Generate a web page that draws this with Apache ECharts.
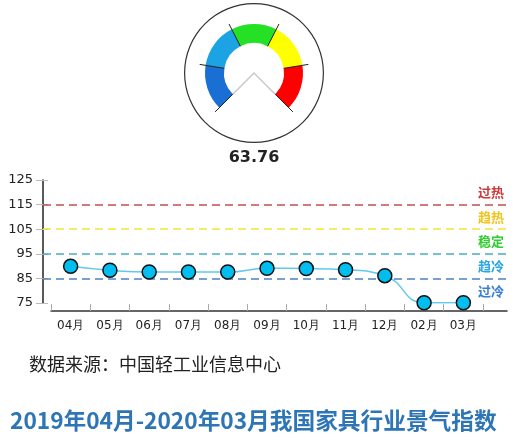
<!DOCTYPE html>
<html>
<head>
<meta charset="utf-8">
<script src="https://cdn.jsdelivr.net/npm/echarts@6/dist/echarts.min.js"></script>
<style>html,body{margin:0;padding:0;background:#fff;}#c{width:520px;height:445px;}</style>
</head>
<body>
<div id="c"></div>
<script>
// ---- data ----
const months = ['04月','05月','06月','07月','08月','09月','10月','11月','12月','02月','03月'];
const indexValues = [89.9, 88.3, 87.6, 87.6, 87.6, 89.1, 89.0, 88.5, 86.1, 75.1, 75.1];
const gaugeValue = 63.76;
const yTicks = [75, 85, 95, 105, 115, 125];
const zoneBounds = [125, 115, 105, 95, 85, 75];
const zoneNames = ['过热', '趋热', '稳定', '趋冷', '过冷'];
const zoneColors = ['#cc3b3b', '#f2c31b', '#33cc33', '#2aa6e0', '#3a7fd5'];
const thresholdLines = [115, 105, 95, 85];
const thresholdColors = ['#c0504d', '#f0e63a', '#4bacc6', '#4f81bd'];
const gaugeColors = ['#1a6fd4', '#1ca3e4', '#25e125', '#ffff00', '#ff0000'];
const sourceText = '数据来源：中国轻工业信息中心';
const titleText = '2019年04月-2020年03月我国家具行业景气指数';

// ---- layout ----
const gc = [254, 73];
const gR = 49, gW = 19, outerR = 70;
const innerR = gR - gW;
function pt(angDeg, r) {
  const a = angDeg * Math.PI / 180;
  return [gc[0] + r * Math.cos(a), gc[1] - r * Math.sin(a)];
}

const chart = echarts.init(document.getElementById('c'), null, {renderer: 'canvas'});
const gridTop = 180, gridH = 123;
const yMin = yTicks[0], yMax = yTicks[yTicks.length - 1];

const option = {
  animation: false,
  backgroundColor: '#fff',
  grid: [
    {left: 43, right: 13, top: gridTop, height: gridH},
    {left: 51, right: 13, top: gridTop, height: gridH},
    {left: 51, right: 37, top: gridTop, height: gridH}
  ],
  xAxis: [
    {gridIndex: 0, type: 'value', min: 0, max: 1, show: false},
    {gridIndex: 1, type: 'value', min: 0, max: 1, offset: 8,
      axisLine: {show: true, lineStyle: {color: '#333', width: 1.5}},
      axisTick: {show: false}, axisLabel: {show: false}, splitLine: {show: false}},
    {gridIndex: 2, type: 'category', data: months, boundaryGap: true, offset: 8,
      axisLine: {show: false},
      axisTick: {show: true, inside: true, length: 7, lineStyle: {color: '#aaa'}},
      axisLabel: {margin: 9, fontSize: 12, color: '#222', fontFamily: 'DejaVu Sans'},
      splitLine: {show: false}}
  ],
  yAxis: [
    {gridIndex: 0, type: 'value', min: yMin, max: yMax, interval: 10, position: 'left',
      axisLine: {show: true, lineStyle: {color: '#222', width: 1.5}},
      axisTick: {show: true, inside: true, length: 5, lineStyle: {color: '#bbb'}},
      axisLabel: {margin: 10, fontSize: 13, color: '#222', fontFamily: 'DejaVu Sans'},
      splitLine: {show: false}},
    {gridIndex: 0, type: 'value', min: yMin, max: yMax, interval: 10, position: 'left',
      axisLine: {show: false},
      axisTick: {show: true, length: 7, lineStyle: {color: '#bbb'}},
      axisLabel: {show: false}, splitLine: {show: false}},
    {gridIndex: 1, type: 'value', min: yMin, max: yMax, show: false},
    {gridIndex: 2, type: 'value', min: yMin, max: yMax, show: false}
  ],
  series: [
    {
      type: 'gauge', center: gc, radius: outerR, z: 1,
      startAngle: 90, endAngle: -270, min: 0, max: 1,
      axisLine: {lineStyle: {width: 1.2, color: [[1, '#333']]}},
      splitLine: {show: false}, axisTick: {show: false}, axisLabel: {show: false},
      pointer: {show: false}, anchor: {show: false}, title: {show: false}, detail: {show: false},
      data: [{value: 0}]
    },
    {
      type: 'gauge', center: gc, radius: gR, z: 2,
      startAngle: 225, endAngle: -45, min: 0, max: 100, splitNumber: 5,
      axisLine: {lineStyle: {width: gW, color: gaugeColors.map((c, i) => [(i + 1) / gaugeColors.length, c])}},
      splitLine: {distance: -25, length: 25, lineStyle: {color: '#222', width: 1}},
      axisTick: {show: false}, axisLabel: {show: false},
      pointer: {show: false}, anchor: {show: false}, title: {show: false},
      detail: {show: true, offsetCenter: [0, 85], fontSize: 16, fontWeight: 'bold', color: '#222',
        fontFamily: 'DejaVu Sans', formatter: v => v.toFixed(2)},
      data: [{value: gaugeValue}]
    },
    {
      type: 'line', xAxisIndex: 0, yAxisIndex: 0, data: [], silent: true,
      markLine: {
        silent: true, symbol: 'none', label: {show: false},
        data: thresholdLines.map((v, i) => ({yAxis: v, lineStyle: {color: thresholdColors[i], type: [8, 5], width: 1.5}}))
      },
      markArea: {
        silent: true, itemStyle: {color: 'rgba(0,0,0,0)'},
        data: zoneNames.map((n, i) => [
          {yAxis: zoneBounds[i], name: n,
            label: {show: true, position: 'insideRight', distance: 3, color: zoneColors[i],
              fontSize: 13, fontWeight: 'bold', fontFamily: 'Noto Sans CJK SC'}},
          {yAxis: zoneBounds[i + 1]}
        ])
      }
    },
    {
      type: 'line', xAxisIndex: 2, yAxisIndex: 3, data: indexValues, smooth: 0.5, z: 5,
      lineStyle: {color: '#62c9ec', width: 1.5},
      symbol: 'circle', symbolSize: 14, showAllSymbol: true,
      itemStyle: {color: '#00bff0', borderColor: '#111', borderWidth: 1.5}
    }
  ],
  graphic: [
    {type: 'polyline', z: 0, shape: {points: [pt(225, innerR), gc, pt(-45, innerR)]},
      style: {stroke: '#c8c8c8', lineWidth: 1.5, fill: null}},
    {type: 'text', left: 29, top: 355, style: {text: sourceText, fontSize: 18, fill: '#222',
      fontFamily: 'Noto Sans CJK SC'}},
    {type: 'text', left: 10, top: 409, style: {text: titleText, fontSize: 22.7, fontWeight: 'bold',
      fill: '#2e75b6', fontFamily: 'Noto Sans CJK SC'}}
  ]
};
chart.setOption(option);
</script>
</body>
</html>
